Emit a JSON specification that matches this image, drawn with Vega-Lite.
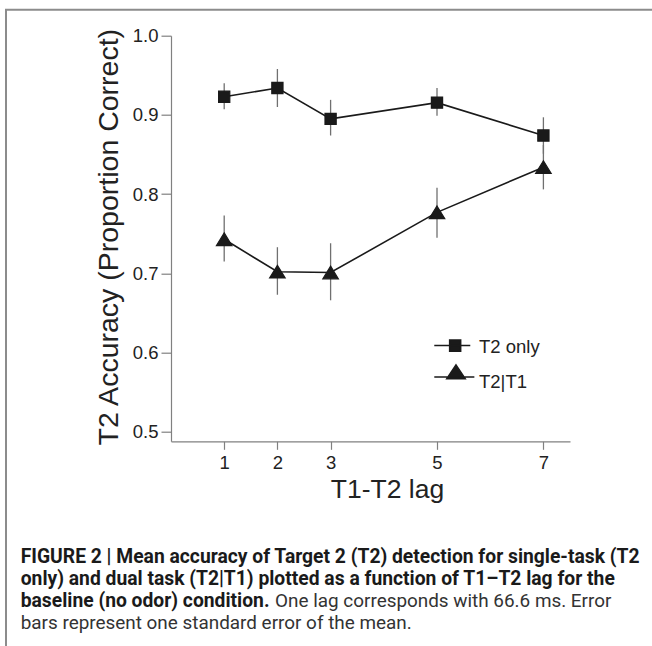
{
  "$schema": "https://vega.github.io/schema/vega-lite/v6.json",
  "width": 399,
  "height": 405.6,
  "autosize": "none",
  "padding": {"left": 171, "top": 35.7, "right": 82, "bottom": 204.7},
  "background": "white",
  "data": {
    "values": [
      {"lag": 1, "series": "T2 only", "mean": 0.923, "lo": 0.907, "hi": 0.940},
      {"lag": 2, "series": "T2 only", "mean": 0.934, "lo": 0.910, "hi": 0.958},
      {"lag": 3, "series": "T2 only", "mean": 0.895, "lo": 0.874, "hi": 0.919},
      {"lag": 5, "series": "T2 only", "mean": 0.9155, "lo": 0.899, "hi": 0.934},
      {"lag": 7, "series": "T2 only", "mean": 0.874, "lo": 0.851, "hi": 0.897},
      {"lag": 1, "series": "T2|T1", "mean": 0.743, "lo": 0.715, "hi": 0.773},
      {"lag": 2, "series": "T2|T1", "mean": 0.702, "lo": 0.673, "hi": 0.733},
      {"lag": 3, "series": "T2|T1", "mean": 0.701, "lo": 0.666, "hi": 0.738},
      {"lag": 5, "series": "T2|T1", "mean": 0.777, "lo": 0.745, "hi": 0.808},
      {"lag": 7, "series": "T2|T1", "mean": 0.834, "lo": 0.806, "hi": 0.862}
    ]
  },
  "title": {
    "text": [
      "FIGURE 2 | Mean accuracy of Target 2 (T2) detection for single-task (T2",
      "only) and dual task (T2|T1) plotted as a function of T1–T2 lag for the",
      "baseline (no odor) condition."
    ],
    "subtitle": [
      "\u200b\u2003\u2003\u2003\u2003\u2003\u2003\u2003\u2003\u2003\u2003\u2003\u2003\u2003\u2009One lag corresponds with 66.6 ms. Error",
      "bars represent one standard error of the mean."
    ],
    "orient": "bottom",
    "anchor": "start",
    "frame": "group",
    "dx": -150.3,
    "offset": -103,
    "font": "Roboto",
    "fontSize": 19.3,
    "fontWeight": "bold",
    "color": "#1a1a1a",
    "lineHeight": 22.1,
    "subtitleFont": "Roboto",
    "subtitleFontSize": 18.9,
    "subtitleFontWeight": "normal",
    "subtitleColor": "#333333",
    "subtitleLineHeight": 22.1,
    "subtitlePadding": -19
  },
  "layer": [
    {
      "mark": {"type": "point", "opacity": 0, "size": 1},
      "encoding": {
        "x": {"field": "lag", "type": "quantitative"},
        "y": {"field": "mean", "type": "quantitative"},
        "color": {
          "field": "mean", "type": "quantitative",
          "scale": {"range": ["rgba(255,255,255,0)", "rgba(255,255,255,0)"]},
          "legend": {
            "orient": "none",
            "legendX": -165,
            "legendY": -26,
            "direction": "vertical",
            "title": null,
            "padding": 0,
            "gradientLength": 640,
            "gradientThickness": 800,
            "gradientStrokeColor": "#8c8c8c",
            "gradientStrokeWidth": 2,
            "labelExpr": "''",
            "labelOpacity": 0,
            "tickCount": 2
          }
        }
      }
    },
    {
      "mark": {"type": "rule", "color": "#707070", "strokeWidth": 1.3},
      "encoding": {
        "x": {"field": "lag", "type": "quantitative"},
        "y": {"field": "lo", "type": "quantitative"},
        "y2": {"field": "hi"}
      }
    },
    {
      "mark": {"type": "line", "color": "#1a1a1a", "strokeWidth": 1.6},
      "encoding": {
        "x": {"field": "lag", "type": "quantitative"},
        "y": {"field": "mean", "type": "quantitative"},
        "detail": {"field": "series"}
      }
    },
    {
      "mark": {"type": "point", "filled": true, "stroke": "#1a1a1a", "strokeWidth": 1.2, "opacity": 1, "size": 256},
      "encoding": {
        "x": {
          "field": "lag", "type": "quantitative",
          "scale": {"domain": [0, 7.5], "nice": false, "zero": false},
          "axis": {
            "values": [1, 2, 3, 5, 7],
            "title": "T1-T2 lag",
            "titleFontSize": 26.5,
            "titleX": 216,
            "titleY": 56,
            "titleBaseline": "alphabetic",
            "titleAnchor": "middle",
            "labelFontSize": 18.5,
            "tickSize": 8,
            "labelPadding": 4
          }
        },
        "y": {
          "field": "mean", "type": "quantitative",
          "scale": {"domain": [0.488, 1.0], "nice": false, "zero": false},
          "axis": {
            "values": [0.5, 0.6, 0.7, 0.8, 0.9, 1.0],
            "format": ".1f",
            "title": "T2 Accuracy (Proportion Correct)",
            "titleFontSize": 28.5,
            "titleX": -54,
            "titleY": 201,
            "titleAngle": -90,
            "titleBaseline": "alphabetic",
            "titleAlign": "center",
            "labelFontSize": 18.5,
            "tickSize": 10,
            "labelPadding": 3
          }
        },
        "shape": {
          "field": "series", "type": "nominal",
          "scale": {"domain": ["T2 only", "T2|T1"], "range": ["M-0.7,-0.7H0.7V0.7H-0.7Z", "M0,-0.8L0.97,0.78L-0.97,0.78Z"]},
          "legend": null
        },
        "color": {
          "field": "series", "type": "nominal",
          "scale": {"domain": ["T2 only", "T2|T1"], "range": ["#1a1a1a", "#1a1a1a"]},
          "legend": {
            "orient": "none",
            "legendX": 269,
            "legendY": 298,
            "title": null,
            "symbolSize": 576,
            "symbolType": {"expr": "datum.value === 'T2 only' ? 'M-1.56,-0.11H1.44M-0.28,-0.55H0.64V0.37H-0.28Z' : 'M-1.56,-0.39H1.78M0.25,-1.4L1.02,-0.25L-0.52,-0.25Z'"},
            "symbolStrokeColor": "#1a1a1a",
            "symbolStrokeWidth": 1.5,
            "symbolOpacity": 1,
            "labelOffset": 13,
            "rowPadding": 5,
            "padding": 0,
            "labelFontSize": 18.5,
            "labelFont": "Liberation Sans",
            "labelColor": "#222222"
          }
        }
      }
    }
  ],
  "config": {
    "view": {"stroke": null},
    "font": "Liberation Sans",
    "axis": {
      "grid": false,
      "domainColor": "#808080",
      "domainWidth": 1.2,
      "tickColor": "#808080",
      "tickWidth": 1.2,
      "labelColor": "#222222",
      "labelFont": "Liberation Sans",
      "titleFont": "Liberation Sans",
      "titleFontWeight": "normal",
      "titleColor": "#222222",
      "labelAngle": 0,
      "labelFlush": false,
      "labelOverlap": false
    }
  }
}
